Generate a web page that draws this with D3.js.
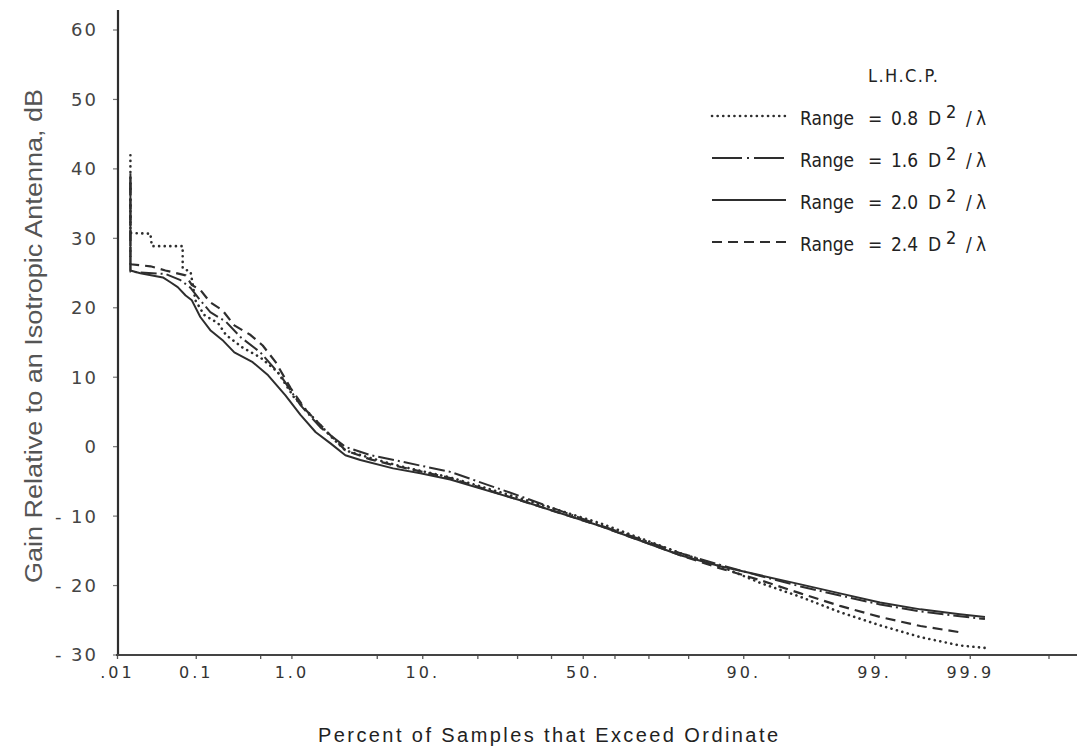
<!DOCTYPE html>
<html>
<head>
<meta charset="utf-8">
<script src="https://cdn.jsdelivr.net/npm/d3@7"></script>
<style>
  body { margin: 0; background: #fff; }
  svg { display: block; }
</style>
</head>
<body>
<svg id="chart" width="1077" height="753"></svg>
<script>
// percent of samples exceeding the ordinate, and gain (dB), per range
const pct08  = [0.0152, 0.0152, 0.0278, 0.029, 0.07, 0.07, 0.087, 0.099, 0.125, 0.18, 0.22, 0.33, 0.50, 0.74, 1.05, 1.55, 2.3, 2.9, 4.5, 7.3, 14.5, 30.9, 55.6, 78.2, 86.4, 92.2, 95.9, 98.0, 99.12, 99.65, 99.87, 99.94];
const gain08 = [41.9, 30.7, 30.6, 28.8, 28.8, 25.6, 25.1, 21.0, 18.9, 17.7, 16.0, 14.2, 12.8, 10.7, 7.1, 4.2, 1.1, -0.6, -1.7, -2.9, -4.5, -7.5, -11.1, -15.4, -17.3, -19.7, -21.7, -23.9, -25.8, -27.5, -28.7, -29.1];

const pct16  = [0.0152, 0.0152, 0.043, 0.066, 0.087, 0.113, 0.147, 0.22, 0.314, 0.503, 0.79, 1.21, 1.81, 2.9, 4.5, 7.3, 14.5, 30.9, 55.6, 78.2, 86.4, 92.2, 95.9, 98.0, 99.12, 99.65, 99.87, 99.934];
const gain16 = [38.6, 25.1, 24.8, 23.9, 22.8, 21.0, 19.3, 17.9, 15.7, 13.5, 10.2, 5.9, 2.7, -0.1, -1.3, -2.2, -3.7, -7.2, -11.4, -15.4, -17.1, -18.7, -20.2, -21.5, -22.8, -23.8, -24.5, -24.9];

const pct20  = [0.0152, 0.0152, 0.0206, 0.04, 0.0497, 0.061, 0.076, 0.09, 0.113, 0.147, 0.2, 0.27, 0.42, 0.6, 0.88, 1.21, 1.65, 2.2, 2.9, 3.79, 6.5, 9.74, 14.5, 30.9, 55.6, 78.2, 86.4, 92.2, 95.9, 98.0, 99.12, 99.65, 99.87, 99.934];
const gain20 = [39.3, 25.3, 24.9, 24.3, 23.6, 22.9, 21.7, 21.0, 18.6, 16.7, 15.3, 13.5, 12.1, 10.2, 7.3, 4.5, 2.0, 0.4, -1.3, -2.0, -3.2, -3.9, -4.8, -7.8, -11.5, -15.7, -17.3, -18.6, -19.9, -21.2, -22.5, -23.5, -24.2, -24.6];

const pct24  = [0.0152, 0.0152, 0.0278, 0.043, 0.076, 0.09, 0.113, 0.147, 0.2, 0.27, 0.4, 0.53, 0.71, 0.98, 1.35, 2.0, 2.9, 4.5, 7.3, 14.5, 30.9, 55.6, 78.2, 86.4, 92.2, 95.9, 98.0, 99.12, 99.65, 99.87];
const gain24 = [37.9, 26.2, 25.9, 25.3, 24.6, 23.2, 22.5, 20.7, 19.6, 17.4, 16.0, 14.5, 12.1, 8.4, 5.2, 2.3, -0.6, -1.9, -3.0, -4.6, -7.8, -11.5, -15.7, -17.6, -19.3, -21.2, -23.0, -24.6, -25.9, -26.8];

// axis ticks
const xTickValues = [0.01, 0.1, 0.5, 1, 5, 10, 20, 30, 40, 50, 60, 70, 80, 90, 95, 99, 99.5, 99.9, 99.99];
const xTickText   = ['.01', '0.1', '', '1.0', '', '10.', '', '', '', '50.', '', '', '', '90.', '', '99.', '', '99.9', ''];
const yTickValues = [-30, -20, -10, 0, 10, 20, 30, 40, 50, 60];

const legendTitle = 'L.H.C.P.';
const legendValues = ['0.8', '1.6', '2.0', '2.4'];

// inverse of the normal cdf (Acklam), used for the probability axis
function probit(p) {
  const a = [-3.969683028665376e+01, 2.209460984245205e+02, -2.759285104469687e+02, 1.383577518672690e+02, -3.066479806614716e+01, 2.506628277459239e+00];
  const b = [-5.447609879822406e+01, 1.615858368580409e+02, -1.556989798598866e+02, 6.680131188771972e+01, -1.328068155288572e+01];
  const c = [-7.784894002430293e-03, -3.223964580411365e-01, -2.400758277161838e+00, -2.549732539343734e+00, 4.374664141464968e+00, 2.938163982698783e+00];
  const d = [7.784695709041462e-03, 3.224671290700398e-01, 2.445134137142996e+00, 3.754408661907416e+00];
  const pLow = 0.02425;
  let q, r;
  if (p < pLow) {
    q = Math.sqrt(-2 * Math.log(p));
    return (((((c[0]*q+c[1])*q+c[2])*q+c[3])*q+c[4])*q+c[5]) / ((((d[0]*q+d[1])*q+d[2])*q+d[3])*q+1);
  }
  if (p <= 1 - pLow) {
    q = p - 0.5; r = q * q;
    return (((((a[0]*r+a[1])*r+a[2])*r+a[3])*r+a[4])*r+a[5])*q / (((((b[0]*r+b[1])*r+b[2])*r+b[3])*r+b[4])*r+1);
  }
  q = Math.sqrt(-2 * Math.log(1 - p));
  return -(((((c[0]*q+c[1])*q+c[2])*q+c[3])*q+c[4])*q+c[5]) / ((((d[0]*q+d[1])*q+d[2])*q+d[3])*q+1);
}

function zip(pct, gain) {
  return pct.map((p, i) => ({p: p, g: gain[i]}));
}

function renderChart() {
  const svg = d3.select('#chart');
  const ink = '#2e2e2e';

  const series = [
    {data: zip(pct08, gain08), dash: '0.1,5.5', width: 2.6, cap: 'round'},
    {data: zip(pct16, gain16), dash: '16,4,2,4', width: 2, cap: 'butt'},
    {data: zip(pct20, gain20), dash: null, width: 2, cap: 'butt'},
    {data: zip(pct24, gain24), dash: '10,6', width: 2.2, cap: 'butt'}
  ];

  // probability scale: linear in the normal deviate
  const x = d3.scaleLinear()
    .domain([probit(0.0001), probit(0.9999)])
    .range([117, 1048.5]);
  const y = d3.scaleLinear().domain([-30, 60]).range([654.5, 29.5]);
  const px = p => x(probit(p / 100));

  // y axis
  const yAxis = d3.axisLeft(y)
    .tickValues(yTickValues)
    .tickSize(5)
    .tickPadding(15)
    .tickFormat(d => d < 0 ? '- ' + Math.abs(d) : String(d));
  const gy = svg.append('g').attr('transform', 'translate(118,0)').call(yAxis);
  gy.select('.domain').remove();
  gy.selectAll('.tick line').attr('stroke', '#777').attr('stroke-width', 1.2);
  gy.selectAll('.tick text')
    .attr('fill', '#444')
    .style('font-family', '"DejaVu Sans", sans-serif')
    .style('font-size', '18px')
    .style('letter-spacing', '2px')
    .attr('dy', '0.36em');

  // x axis
  const xAxis = d3.axisBottom(x)
    .tickValues(xTickValues.map(p => probit(p / 100)))
    .tickSize(4)
    .tickPadding(8)
    .tickFormat((d, i) => xTickText[i]);
  const gx = svg.append('g').attr('transform', 'translate(0,655)').call(xAxis);
  gx.select('.domain').remove();
  gx.selectAll('.tick line').attr('stroke', '#555').attr('stroke-width', 1.3);
  gx.selectAll('.tick text')
    .attr('fill', '#333')
    .style('font-family', '"DejaVu Sans", sans-serif')
    .style('font-size', '16px')
    .style('letter-spacing', '3px');

  // axis lines
  svg.append('line')
    .attr('x1', 118).attr('x2', 118).attr('y1', 10).attr('y2', 656)
    .attr('stroke', ink).attr('stroke-width', 2.2);
  svg.append('line')
    .attr('x1', 116).attr('x2', 1077).attr('y1', 655).attr('y2', 655)
    .attr('stroke', '#444').attr('stroke-width', 2);

  // curves
  const line = d3.line().x(d => px(d.p)).y(d => y(d.g));
  series.forEach(s => {
    svg.append('path')
      .datum(s.data)
      .attr('d', line)
      .attr('fill', 'none')
      .attr('stroke', ink)
      .attr('stroke-width', s.width)
      .attr('stroke-linecap', s.cap)
      .attr('stroke-linejoin', 'round')
      .attr('stroke-dasharray', s.dash);
  });

  // axis titles
  svg.append('text')
    .attr('transform', 'translate(42,336) rotate(-90)')
    .attr('text-anchor', 'middle')
    .attr('fill', '#555')
    .attr('textLength', 494)
    .attr('lengthAdjust', 'spacingAndGlyphs')
    .style('font-family', '"Liberation Sans", Arial, sans-serif')
    .style('font-size', '23px')
    .text('Gain Relative to an Isotropic Antenna, dB');

  svg.append('text')
    .attr('x', 318).attr('y', 742)
    .attr('fill', '#222')
    .attr('textLength', 460)
    .attr('lengthAdjust', 'spacing')
    .style('font-family', '"Liberation Sans", Arial, sans-serif')
    .style('font-size', '20px')
    .text('Percent of Samples that Exceed Ordinate');

  // legend
  const legend = svg.append('g')
    .style('font-family', '"Liberation Sans Narrow", "DejaVu Sans Condensed", "Liberation Sans", sans-serif')
    .attr('fill', '#222');

  legend.append('text')
    .attr('x', 868).attr('y', 82)
    .attr('textLength', 70)
    .attr('lengthAdjust', 'spacing')
    .style('font-size', '18px')
    .text(legendTitle);

  legendValues.forEach((v, i) => {
    const ly = 116 + i * 42;
    const s = series[i];
    legend.append('line')
      .attr('x1', 712).attr('x2', 786).attr('y1', ly).attr('y2', ly)
      .attr('stroke', ink)
      .attr('stroke-width', s.width)
      .attr('stroke-linecap', s.cap)
      .attr('stroke-dasharray', i === 1 ? '30,5,2,5' : s.dash);

    const t = legend.append('text')
      .attr('y', ly + 9)
      .style('font-size', '19px');
    t.append('tspan').attr('x', 800).text('Range');
    t.append('tspan').attr('x', 868).text('=');
    t.append('tspan').attr('x', 891).text(v);
    t.append('tspan').attr('x', 928).text('D');
    t.append('tspan').attr('x', 946).attr('dy', -7).style('font-size', '18px').text('2');
    t.append('tspan').attr('x', 966).attr('dy', 7).text('/');
    t.append('tspan').attr('x', 976).text('λ');
  });
}

window.onload = renderChart;
</script>
</body>
</html>
